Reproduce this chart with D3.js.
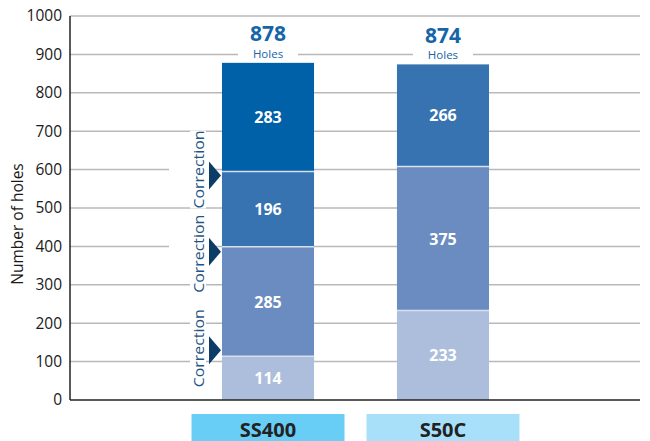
<!DOCTYPE html>
<html>
<head>
<meta charset="utf-8">
<script src="https://cdn.jsdelivr.net/npm/d3@7"></script>
<style>
  html, body { margin: 0; padding: 0; background: #fff; }
  svg { display: block; font-family: "Open Sans", "Noto Sans", sans-serif; }
</style>
</head>
<body>
<svg id="chart" width="650" height="441"></svg>
<script>
// Materials on the x axis
const categories = ["SS400", "S50C"];
// Stacked hole counts per material, bottom to top
const ss400Values = [114, 285, 196, 283];
const s50cValues = [233, 375, 266];
// Totals shown above each stack
const totals = [878, 874];
// Y axis ticks
const yTicks = [0, 100, 200, 300, 400, 500, 600, 700, 800, 900, 1000];
// Label text
const yTitle = "Number of holes";
const totalUnit = "Holes";
const correctionLabel = "Correction";

const stacks = [ss400Values, s50cValues];
const layerColors = ["#adbedc", "#6b8cc1", "#3673b0", "#0060a8"];
const categoryColors = ["#68cef5", "#a9e0f9"];

const svg = d3.select("#chart");
const plotLeft = 70, plotRight = 640, plotTop = 16, plotBottom = 400;

const y = d3.scaleLinear().domain([0, 1000]).range([plotBottom, plotTop]);
const x = d3.scaleBand().domain(categories)
  .range([134.5, 576.5]).paddingInner(0.474).paddingOuter(0.5);

// Gridlines
svg.append("g").selectAll("line").data(yTicks.filter(d => d > 0)).join("line")
  .attr("x1", plotLeft).attr("x2", plotRight)
  .attr("y1", d => y(d)).attr("y2", d => y(d))
  .attr("stroke", "#b9b9b9").attr("stroke-width", 1.5);

// Y axis
const yAxis = svg.append("g").attr("transform", `translate(${plotLeft},0)`)
  .call(d3.axisLeft(y).tickValues(yTicks).tickFormat(d3.format("d"))
    .tickSize(0).tickPadding(8));
yAxis.select(".domain").remove();
yAxis.selectAll("text").attr("font-size", 15.5).attr("fill", "#1a1a1a")
  .attr("font-family", "'Open Sans', sans-serif");

svg.append("text")
  .attr("transform", `translate(23,${(plotTop + plotBottom) / 2 + 16}) rotate(-90)`)
  .attr("text-anchor", "middle").attr("font-size", 15.5).attr("fill", "#1a1a1a")
  .text(yTitle);

// Stacked bars
stacks.forEach((vals, ci) => {
  const cat = categories[ci];
  const g = svg.append("g");
  const cum = d3.cumsum(vals);
  const segs = vals.map((v, i) => ({ v, i, y0: cum[i] - v, y1: cum[i] }));
  g.selectAll("rect").data(segs).join("rect")
    .attr("x", x(cat)).attr("width", x.bandwidth())
    .attr("y", d => y(d.y1)).attr("height", d => y(d.y0) - y(d.y1))
    .attr("fill", d => layerColors[d.i]);
  // separators between segments
  g.selectAll("line").data(segs.slice(1)).join("line")
    .attr("x1", x(cat)).attr("x2", x(cat) + x.bandwidth())
    .attr("y1", d => y(d.y0)).attr("y2", d => y(d.y0))
    .attr("stroke", "#d6e0ee").attr("stroke-width", 1.5);
  g.selectAll("text").data(segs).join("text")
    .attr("x", x(cat) + x.bandwidth() / 2)
    .attr("y", d => (y(d.y0) + y(d.y1)) / 2 + 6)
    .attr("text-anchor", "middle").attr("font-size", 16).attr("font-weight", 700)
    .attr("fill", "#fff").text(d => d.v);

  // Total label with a white backing over the gridline
  const cx = x(cat) + x.bandwidth() / 2;
  svg.append("rect").attr("x", cx - 30).attr("y", y(totals[ci]) - 42)
    .attr("width", 60).attr("height", 40).attr("fill", "#fff");
  svg.append("text").attr("x", cx).attr("y", y(totals[ci]) - 21.5)
    .attr("text-anchor", "middle").attr("font-size", 21).attr("font-weight", 700)
    .attr("fill", "#1565a8").text(totals[ci]);
  svg.append("text").attr("x", cx).attr("y", y(totals[ci]) - 5)
    .attr("text-anchor", "middle").attr("font-size", 11.5)
    .attr("fill", "#1565a8").text(totalUnit);

  // Category label box
  svg.append("rect").attr("x", cx - 76.5).attr("y", 414)
    .attr("width", 153).attr("height", 30).attr("fill", categoryColors[ci]);
  svg.append("text").attr("x", cx).attr("y", 436.5)
    .attr("text-anchor", "middle").attr("font-size", 20).attr("font-weight", 700)
    .attr("fill", "#222").text(cat);
});

// Correction markers at the SS400 segment boundaries
const corrBounds = d3.cumsum(ss400Values).slice(0, 3);
const arrowNudge = [-6, 5, 4];
const textNudge = [-8, 7, -2];
const barLeft = x(categories[0]);
const cg = svg.append("g");
corrBounds.forEach((b, i) => {
  const ay = y(b) + arrowNudge[i];
  const ty = y(b) + textNudge[i];
  cg.append("rect").attr("x", 169).attr("y", ay - 9).attr("width", 40).attr("height", 18)
    .attr("fill", "#fff");
  cg.append("rect").attr("x", 190).attr("y", ty - 39).attr("width", 16).attr("height", 78)
    .attr("fill", "#fff");
  cg.append("path")
    .attr("d", `M${barLeft - 13},${ay - 14} L${barLeft - 1},${ay} L${barLeft - 13},${ay + 14} Z`)
    .attr("fill", "#0d3d66");
  cg.append("text")
    .attr("transform", `translate(204,${ty}) rotate(-90)`)
    .attr("text-anchor", "middle").attr("font-size", 15)
    .attr("textLength", 78).attr("lengthAdjust", "spacingAndGlyphs")
    .attr("fill", "#1f5585").text(correctionLabel);
});

// Axis lines
svg.append("line").attr("x1", plotLeft).attr("x2", plotLeft).attr("y1", plotTop).attr("y2", plotBottom)
  .attr("stroke", "#222").attr("stroke-width", 1.5);
svg.append("line").attr("x1", plotLeft).attr("x2", plotRight).attr("y1", plotBottom).attr("y2", plotBottom)
  .attr("stroke", "#222").attr("stroke-width", 1.5);
</script>
</body>
</html>
